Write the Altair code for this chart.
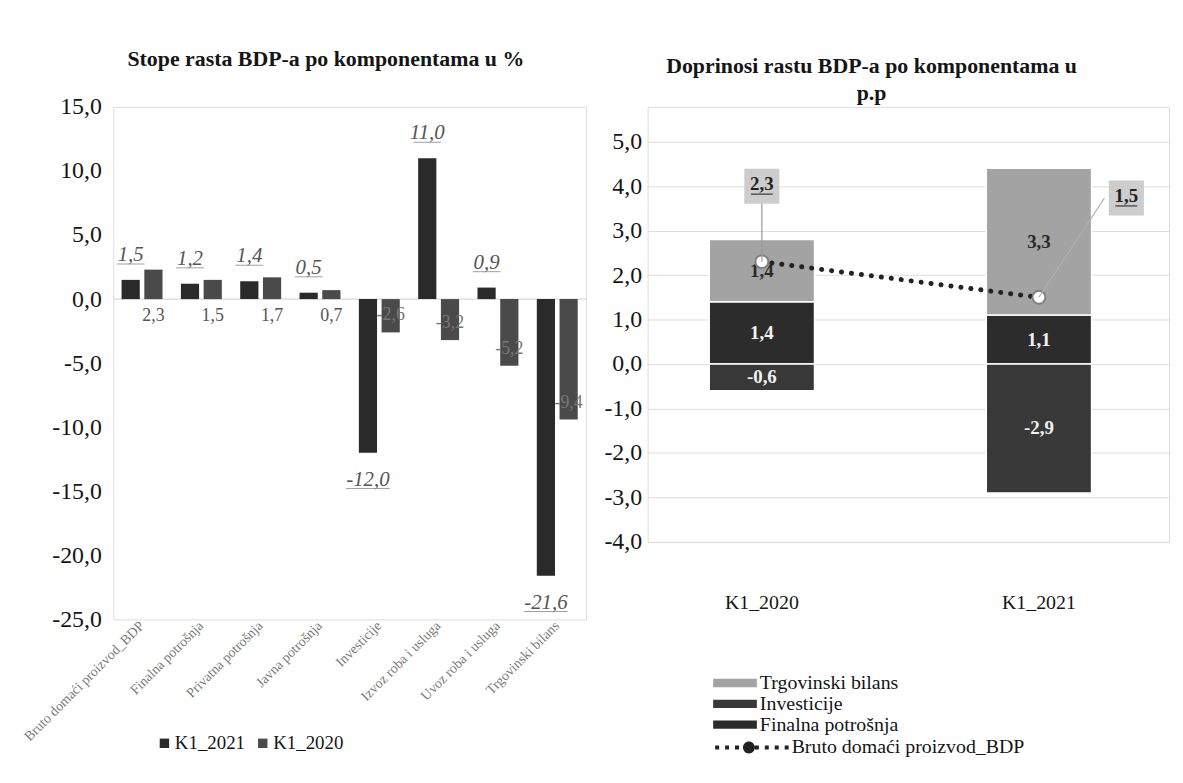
import altair as alt
import pandas as pd

FONT = "Liberation Serif"

# ---------------- left panel data ----------------
categories = [
    "Bruto domaći proizvod_BDP",
    "Finalna potrošnja",
    "Privatna potrošnja",
    "Javna potrošnja",
    "Investicije",
    "Izvoz roba i usluga",
    "Uvoz roba i usluga",
    "Trgovinski bilans",
]
k1_2021 = [1.5, 1.2, 1.4, 0.5, -12.0, 11.0, 0.9, -21.6]
k1_2020 = [2.3, 1.5, 1.7, 0.7, -2.6, -3.2, -5.2, -9.4]
left_series = ["K1_2021", "K1_2020"]
left_ticks = [15, 10, 5, 0, -5, -10, -15, -20, -25]

# ---------------- right panel data ----------------
quarters = ["K1_2020", "K1_2021"]
components = ["Trgovinski bilans", "Investicije", "Finalna potrošnja"]
finalna = [1.4, 1.1]
investicije = [-0.6, -2.9]
trgovinski = [1.4, 3.3]
bdp = [2.3, 1.5]
bdp_name = "Bruto domaći proizvod_BDP"
right_ticks = [5, 4, 3, 2, 1, 0, -1, -2, -3, -4]

MINUS = "\u2212"
comma_axis = f"replace(replace(format(datum.value, '.1f'), '.', ','), '{MINUS}', '-')"


def comma_field(f):
    return f"replace(replace(format(datum.{f}, '.1f'), '.', ','), '{MINUS}', '-')"


# ---------------- left panel ----------------
left_rows = []
for cat, a, b in zip(categories, k1_2021, k1_2020):
    left_rows.append({"Kategorija": cat, "Serija": left_series[0], "Vrijednost": a})
    left_rows.append({"Kategorija": cat, "Serija": left_series[1], "Vrijednost": b})
left_df = pd.DataFrame(left_rows)

x_left = alt.X(
    "Kategorija:N", sort=categories,
    scale=alt.Scale(paddingInner=0.31, paddingOuter=0.14),
    axis=alt.Axis(title=None, labelAngle=-45, labelAlign="right", labelBaseline="middle",
                  labelFontSize=14, labelColor="#7a7a7a", labelFont=FONT, ticks=False,
                  domain=False, labelPadding=4, labelLimit=400),
)
xoff_left = alt.XOffset("Serija:N", sort=left_series, scale=alt.Scale(paddingInner=0.2))
y_scale_left = alt.Scale(domain=[-25, 15], nice=False)
y_left = alt.Y(
    "Vrijednost:Q", scale=y_scale_left,
    axis=alt.Axis(title=None, values=left_ticks, grid=False, domain=False, ticks=False,
                  labelExpr=comma_axis, labelFontSize=24, labelFont=FONT,
                  labelColor="#151515", labelPadding=12),
)

base_l = alt.Chart(left_df).transform_calculate(
    lab=comma_field("Vrijednost")
).encode(x=x_left, xOffset=xoff_left)

bars_l = base_l.mark_bar().encode(
    y=y_left,
    color=alt.Color(
        "Serija:N", sort=left_series,
        scale=alt.Scale(domain=left_series, range=["#2a2a2a", "#4a4a4a"]),
        legend=alt.Legend(orient="none", legendX=42, legendY=631, direction="horizontal",
                          title=None, labelFontSize=19, labelFont=FONT, labelColor="#151515",
                          symbolType="square", symbolSize=90, columnPadding=8,
                          labelOffset=1),
    ),
)

zero_df = pd.DataFrame({"Vrijednost": [0]})
zero_l = alt.Chart(zero_df).mark_rule(color="#cfcfcf", strokeWidth=1).encode(
    y=alt.Y("Vrijednost:Q", scale=y_scale_left)
)

f21_pos = base_l.transform_filter("datum.Serija == 'K1_2021' && datum.Vrijednost > 0")
f21_neg = base_l.transform_filter("datum.Serija == 'K1_2021' && datum.Vrijednost < 0")
y_val_l = alt.Y("Vrijednost:Q", scale=y_scale_left)

lab_21_pos = f21_pos.mark_text(dy=-25, fontStyle="italic", fontSize=21, font=FONT,
                               color="#555555").encode(y=y_val_l, text="lab:N")
ul_21_pos = f21_pos.mark_tick(orient="horizontal", size=28, thickness=1, color="#777777",
                              yOffset=-16).encode(y=y_val_l)
lab_21_neg = f21_neg.mark_text(dy=27, fontStyle="italic", fontSize=21, font=FONT,
                               color="#555555").encode(y=y_val_l, text="lab:N")
ul_21_neg = f21_neg.mark_tick(orient="horizontal", size=44, thickness=1, color="#777777",
                              yOffset=36).encode(y=y_val_l)
lab_20_pos = base_l.transform_filter(
    "datum.Serija == 'K1_2020' && datum.Vrijednost > 0"
).mark_text(dy=17, fontSize=18, font=FONT, color="#555555").encode(
    y=alt.datum(0), text="lab:N")
lab_20_neg = base_l.transform_filter(
    "datum.Serija == 'K1_2020' && datum.Vrijednost < 0"
).mark_text(dy=-17, fontSize=18, font=FONT, color="#777777").encode(
    y=y_val_l, text="lab:N")

left = alt.layer(zero_l, bars_l, lab_21_pos, ul_21_pos, lab_21_neg, ul_21_neg,
                 lab_20_pos, lab_20_neg).properties(
    width=476, height=516,
    title=alt.TitleParams("Stope rasta BDP-a po komponentama u %", font=FONT, fontSize=22,
                          fontWeight="bold", anchor="middle", dx=-24, offset=24,
                          color="#151515"),
)

# ---------------- right panel ----------------
right_rows = []
for i, q in enumerate(quarters):
    for comp, vals, order in [("Finalna potrošnja", finalna, 0),
                              ("Investicije", investicije, 1),
                              ("Trgovinski bilans", trgovinski, 2)]:
        right_rows.append({"Kvartal": q, "Komponenta": comp, "Doprinos": vals[i], "red": order})
right_df = pd.DataFrame(right_rows)
bdp_df = pd.DataFrame({"Kvartal": quarters, "BDP": bdp, "Serija": [bdp_name] * len(quarters)})

x_right = alt.X(
    "Kvartal:N", sort=quarters,
    scale=alt.Scale(paddingInner=0.62, paddingOuter=0.251, align=0.443),
    axis=alt.Axis(title=None, labelAngle=0, labelFontSize=20, labelFont=FONT,
                  labelColor="#151515", labelPadding=51, ticks=False, domain=False),
)
y_scale_right = alt.Scale(domain=[-4, 5.78], nice=False)
y_axis_right = alt.Axis(title=None, values=right_ticks, grid=True, gridColor="#dcdcdc",
                        domain=False, ticks=False, labelExpr=comma_axis, labelFontSize=24,
                        labelFont=FONT, labelColor="#151515", labelPadding=6)

stacked = alt.Chart(right_df).transform_stack(
    stack="Doprinos", as_=["lo", "hi"], groupby=["Kvartal"],
    sort=[alt.SortField("red", order="ascending")], offset="zero",
).transform_calculate(
    mid="(datum.lo + datum.hi) / 2",
    lab=comma_field("Doprinos"),
)

bars_r = stacked.mark_bar(stroke="white", strokeWidth=1.5).encode(
    x=x_right,
    y=alt.Y("lo:Q", scale=y_scale_right, axis=y_axis_right),
    y2="hi:Q",
    color=alt.Color(
        "Komponenta:N",
        scale=alt.Scale(domain=components, range=["#a3a3a3", "#383838", "#2c2c2c"]),
        legend=alt.Legend(orient="none", legendX=90, legendY=570, direction="vertical",
                          title=None, labelFontSize=20, labelFont=FONT, labelColor="#151515",
                          symbolType="M-3.4,-0.42L1,-0.42L1,0.42L-3.4,0.42Z", symbolSize=400,
                          symbolStrokeWidth=0, rowPadding=1, labelOffset=3, labelLimit=400),
    ),
)

seg_labels = stacked.mark_text(fontWeight="bold", fontSize=19, font=FONT).encode(
    x=x_right,
    y=alt.Y("mid:Q", scale=y_scale_right),
    text="lab:N",
    color=alt.condition("datum.Komponenta == 'Trgovinski bilans'",
                        alt.value("#2a2a2a"), alt.value("#f2f2f2")),
)

dots_path = " ".join(
    f"M{x:.1f},-0.2h0.4v0.4h-0.4Z" for x in [-6.4, -5.4, -4.4, -2.4, -1.4, -0.4, 0.6]
) + " M-3.6,0a0.6,0.6 0 1,0 1.2,0a0.6,0.6 0 1,0 -1.2,0Z"

line = alt.Chart(bdp_df).mark_line(strokeWidth=5, strokeCap="round", color="#222222").encode(
    x=x_right,
    y=alt.Y("BDP:Q", scale=y_scale_right),
    strokeDash=alt.StrokeDash(
        "Serija:N", scale=alt.Scale(domain=[bdp_name], range=[[0.1, 10]]),
        legend=alt.Legend(orient="none", legendX=122, legendY=635, title=None,
                          labelFontSize=20, labelFont=FONT, labelColor="#151515",
                          symbolType=dots_path, symbolSize=400, symbolStrokeWidth=0,
                          symbolFillColor="#222222", symbolOpacity=1,
                          labelOffset=3, labelLimit=400),
    ),
)

points = alt.Chart(bdp_df).mark_point(filled=True, fill="white", stroke="#808080",
                                      strokeWidth=2, size=170, opacity=1).encode(
    x=x_right, y=alt.Y("BDP:Q", scale=y_scale_right))

bdp_lab = bdp_df.assign(lab=[f"{v:.1f}".replace(".", ",") for v in bdp])
y_bdp = alt.Y("BDP:Q", scale=y_scale_right)

c1 = alt.Chart(bdp_lab).transform_filter("datum.Kvartal == 'K1_2020'")
lead1 = c1.mark_rule(color="#9a9a9a", strokeWidth=1.2, y2Offset=-60).encode(
    x=x_right, y=y_bdp, y2="BDP:Q")
box1 = c1.mark_square(size=1250, color="#cdcdcd", opacity=1, yOffset=-76).encode(
    x=x_right, y=y_bdp)
txt1 = c1.mark_text(fontWeight="bold", fontSize=19, font=FONT, color="#222222", dy=-78).encode(
    x=x_right, y=y_bdp, text="lab:N")
ul1 = c1.mark_tick(orient="horizontal", size=22, thickness=1.5, color="#222222",
                   yOffset=-68).encode(x=x_right, y=y_bdp)

c2 = alt.Chart(bdp_lab).transform_filter("datum.Kvartal == 'K1_2021'")
lead2 = c2.mark_rule(color="#b0b0b0", strokeWidth=1.2, x2Offset=66, y2Offset=-100).encode(
    x=x_right, x2="Kvartal:N", y=y_bdp, y2="BDP:Q")
box2 = c2.mark_square(size=1250, color="#cdcdcd", opacity=1, xOffset=88, yOffset=-100).encode(
    x=x_right, y=y_bdp)
txt2 = c2.mark_text(fontWeight="bold", fontSize=19, font=FONT, color="#222222",
                    dx=88, dy=-102).encode(x=x_right, y=y_bdp, text="lab:N")
ul2 = c2.mark_tick(orient="horizontal", size=22, thickness=1.5, color="#222222",
                   xOffset=88, yOffset=-92).encode(x=x_right, y=y_bdp)

right = alt.layer(bars_r, seg_labels, line, points, lead1, box1, txt1, ul1,
                  lead2, box2, txt2, ul2).properties(
    width=525, height=438,
    title=alt.TitleParams(["Doprinosi rastu BDP-a po komponentama u", "p.p"], font=FONT,
                          fontSize=22, fontWeight="bold", anchor="middle", dx=-37, offset=2,
                          lineHeight=27, color="#151515"),
)

chart = alt.hconcat(left, right, spacing=62, bounds="flush").resolve_scale(
    color="independent", strokeDash="independent"
).properties(
    padding={"top": 37, "left": 12, "right": 5, "bottom": 5},
    background="white",
).configure_view(strokeOpacity=0).configure(font=FONT)

chart.save("out.html", embed_options={"renderer": "svg", "actions": False})
